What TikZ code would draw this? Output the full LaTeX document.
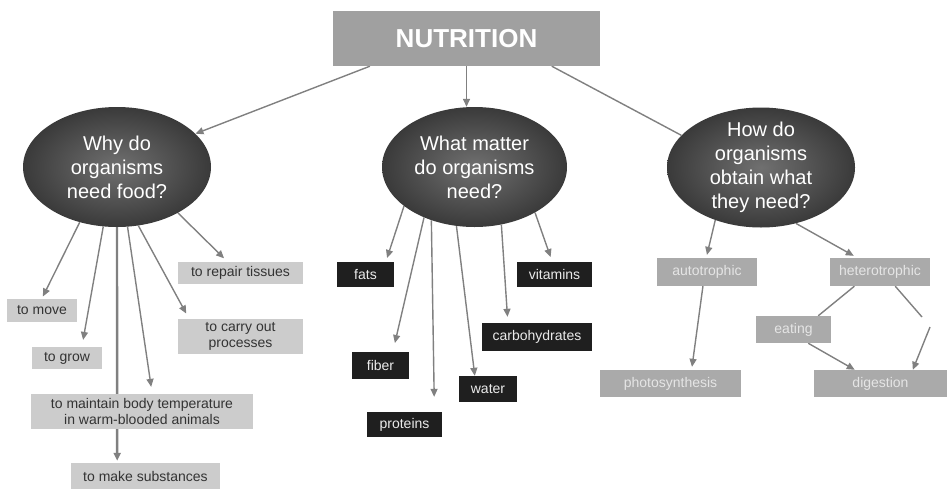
\documentclass[tikz,border=0pt]{standalone}
\usepackage{fontspec}
\setmainfont{Liberation Sans}
\usetikzlibrary{shapes.geometric,arrows.meta}
\pgfdeclarelayer{bg}
\pgfsetlayers{bg,main}
\definecolor{nutgray}{RGB}{160,160,160}
\definecolor{boxgray}{RGB}{204,204,204}
\definecolor{sidegray}{RGB}{170,170,170}
\definecolor{linegray}{RGB}{128,128,128}
\definecolor{ovaldark}{RGB}{58,58,58}
\definecolor{ovallight}{RGB}{112,112,112}
\begin{document}
\begin{tikzpicture}[x=1pt,y=-1pt,
		titlebox/.style={rectangle, fill=nutgray, text=white, inner sep=0pt, minimum width=267pt, minimum height=55pt, font=\fontsize{26}{30}\selectfont\bfseries},
		oval/.style={ellipse, inner color=ovallight, outer color=ovaldark, text=white, align=center, inner xsep=0pt, inner ysep=-8pt, minimum width=188pt, minimum height=120pt, font=\fontsize{20}{24}\selectfont},
		lightbox/.style={rectangle, fill=boxgray, text=black!80, align=center, inner sep=0pt, font=\fontsize{14}{16.7}\selectfont},
		darkbox/.style={rectangle, fill=black!88, text=white!92!black, inner sep=0pt, font=\fontsize{14}{16.7}\selectfont},
		sidebox/.style={rectangle, fill=sidegray, text=white!90!black, inner sep=0pt, font=\fontsize{14}{16.7}\selectfont},
		link/.style={draw=linegray, line width=1.4pt, -{Triangle[length=8pt,width=7pt]}},
		plain/.style={draw=linegray, line width=1.4pt}]
	\useasboundingbox (0,0) rectangle (947,488);

	% title and questions
	\node[titlebox] (nut) at (466.5,38.5) {NUTRITION};
	\node[oval] (why) at (117,167) {Why do\\organisms\\need food?};
	\node[oval, minimum width=185pt] (what) at (474.5,167) {What matter\\do organisms\\need?};
	\node[oval] (how) at (761,167.5) {How do\\organisms\\obtain what\\they need?};

	% why boxes
	\node[lightbox, minimum width=125pt, minimum height=22pt] (repair) at (240.5,273) {to repair tissues};
	\node[lightbox, minimum width=70pt, minimum height=23pt] (move) at (42,310) {to move};
	\node[lightbox, minimum width=70pt, minimum height=22pt] (grow) at (67,358) {to grow};
	\node[lightbox, minimum width=125pt, minimum height=35pt] (carry) at (240.5,336.5) {to carry out\\processes};
	\node[lightbox, minimum width=222pt, minimum height=35pt] (maint) at (142,411.5) {to maintain body temperature\\in warm-blooded animals};
	\node[lightbox, minimum width=149pt, minimum height=26pt] (make) at (145.5,476) {to make substances};

	% matter boxes
	\node[darkbox, minimum width=57pt, minimum height=25pt] (fats) at (365.5,274.5) {fats};
	\node[darkbox, minimum width=75pt, minimum height=25pt] (vit) at (554.5,274.5) {vitamins};
	\node[darkbox, minimum width=110pt, minimum height=28pt] (carbs) at (537,337) {carbohydrates};
	\node[darkbox, minimum width=57pt, minimum height=27pt] (fiber) at (380.5,365.5) {fiber};
	\node[darkbox, minimum width=58pt, minimum height=26pt] (water) at (488,389) {water};
	\node[darkbox, minimum width=75pt, minimum height=25pt] (prot) at (404.5,424.5) {proteins};

	% obtain boxes
	\node[sidebox, minimum width=100pt, minimum height=28pt] (auto) at (707,272) {autotrophic};
	\node[sidebox, minimum width=100pt, minimum height=28pt] (hetero) at (880,272) {heterotrophic};
	\node[sidebox, minimum width=75pt, minimum height=27pt] (eating) at (793.5,329.5) {eating};
	\node[sidebox, minimum width=141pt, minimum height=27pt] (photo) at (670.5,383.5) {photosynthesis};
	\node[sidebox, minimum width=133pt, minimum height=27pt] (dig) at (880.5,383.5) {digestion};
	\coordinate (hgapa) at (922,317);
	\coordinate (hgapb) at (930,327);

	% links
	\begin{pgfonlayer}{bg}
		\draw[link] (nut.196) -- (why.23);
		\draw[link] (nut.south) -- (nut.south |- what.north);
		\draw[plain] (nut.342) -- (how.158);

		\draw[link, shorten >=5pt] (why.323) -- (repair.139);
		\draw[link, shorten >=2pt] (why.236) -- (move.north);
		\draw[link, shorten >=7pt] (why.257) -- (grow.37);
		\draw[link, line width=2.4pt, shorten >=2pt] (why.270) -- (make.155);
		\draw[link, shorten >=7pt] (why.280) -- (maint.60);
		\draw[link, shorten >=6pt] (why.290) -- (carry.161);

		\draw[link, shorten >=4pt] (what.209) -- (fats.32);
		\draw[link, shorten >=9pt] (what.225) -- (fiber.48);
		\draw[link, shorten >=15pt] (what.231) -- (prot.23);
		\draw[link] (what.253) -- (water.135);
		\draw[link, shorten >=6pt] (what.295) -- (carbs.154);
		\draw[link, shorten >=5pt] (what.323) -- (vit.100);

		\draw[link, shorten >=3pt] (how.229) -- (auto.93);
		\draw[link, shorten >=4pt] (how.302) -- (hetero.148);
		\draw[link, shorten >=3pt] (auto.254) -- (photo.33);
		\draw[plain] (hetero.209) -- (eating.29);
		\draw[link] (eating.317) -- (dig.152);
		\draw[plain] (hetero.317) -- (hgapa);
		\draw[link] (hgapb) -- (dig.23);
	\end{pgfonlayer}
\end{tikzpicture}
\end{document}
